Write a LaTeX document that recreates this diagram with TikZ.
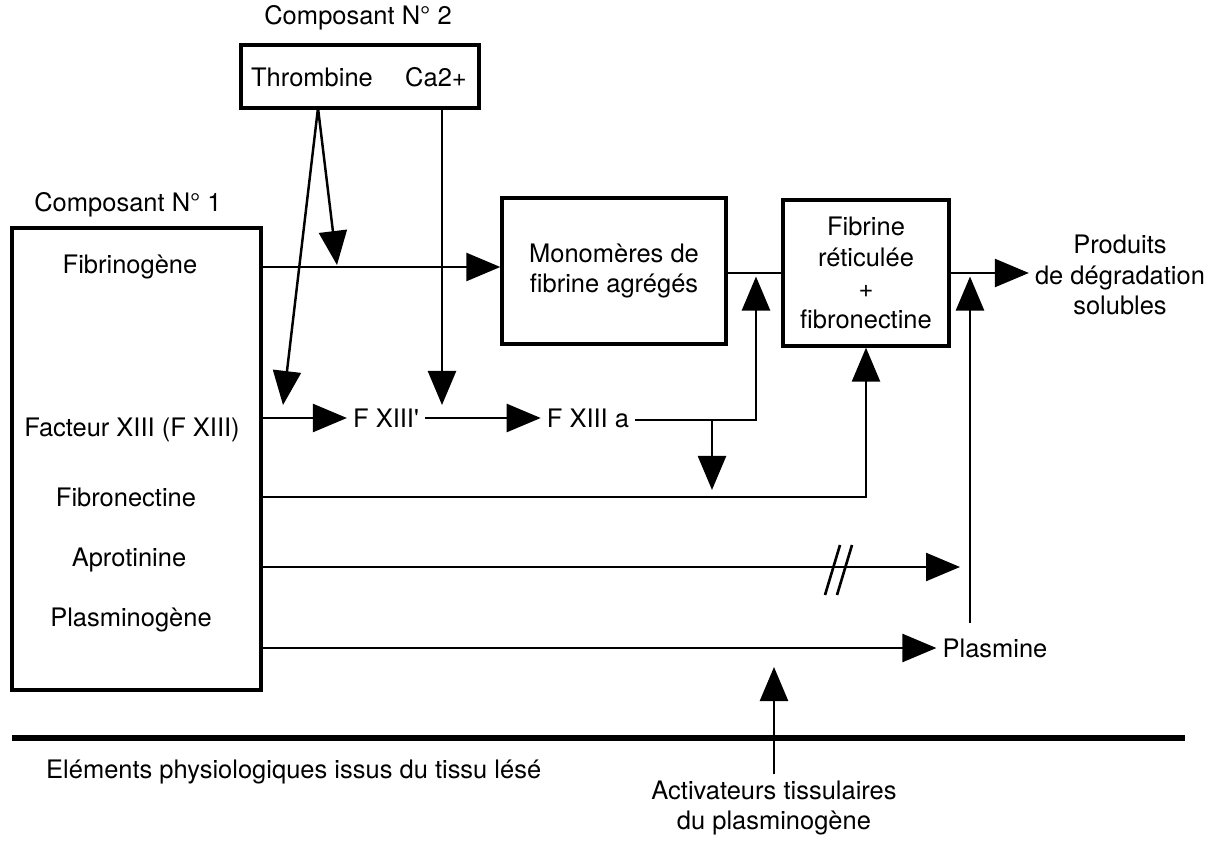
\documentclass[tikz,border=0pt]{standalone}
\usepackage{fontspec}
\setmainfont{TeX Gyre Heros}
\usetikzlibrary{arrows.meta}

\tikzset{
  box/.style={draw=black,line width=1.9pt,rectangle,inner sep=0pt},
  flow/.style={line width=1.4pt,-{Triangle[length=0.68cm,width=0.56cm]}},
  link/.style={line width=1.4pt},
  cut/.style={line width=1.5pt},
}

\begin{document}
\begin{tikzpicture}[font=\fontsize{14.5}{17.5}\selectfont]
  \useasboundingbox (0,0) rectangle (24.44,17.02);

  % Composant 2
  \node (c2title) at (7.16,16.66) {Composant N° 2};
  \node[box,minimum width=4.76cm,minimum height=1.26cm] (comp2) at (7.2,15.49) {};
  \node (thromb) at (6.24,15.48) {Thrombine};
  \node (calc) at (8.72,15.48) {Ca2+};

  % Composant 1
  \node (c1title) at (2.56,12.92) {Composant N° 1};
  \node[box,minimum width=4.98cm,minimum height=9.24cm] (comp1) at (2.73,7.84) {};
  \node (fibrinogene) at (2.6,11.68) {Fibrinogène};
  \node (fxiii) at (2.64,8.42) {Facteur XIII (F XIII)};
  \node (fibronectine) at (2.52,7.08) {Fibronectine};
  \node (aprotinine) at (2.58,5.82) {Aprotinine};
  \node (plasminogene) at (2.62,4.62) {Plasminogène};

  % Central boxes
  \node[box,minimum width=4.48cm,minimum height=2.92cm,align=center] (mono) at (12.28,11.6) {Monomères de\\fibrine agrégés};
  \node[box,minimum width=3.32cm,minimum height=2.92cm,align=center] (fibrine) at (17.32,11.56) {Fibrine\\réticulée\\+\\fibronectine};

  % Intermediates and products
  \node (fxiiip) at (7.72,8.66) {F XIII\textquotesingle};
  \node (fxiiia) at (11.76,8.66) {F XIII a};
  \node (plasmine) at (19.9,4.06) {Plasmine};
  \node[align=center] (produits) at (22.4,11.52) {Produits\\de dégradation\\solubles};

  % Bottom part
  \draw[line width=3pt] (0.24,2.26) -- (23.7,2.26);
  \node[anchor=west] (elements) at (0.8,1.58) {Eléments physiologiques issus du tissu lésé};
  \node[align=center] (activ) at (15.48,0.86) {Activateurs tissulaires\\du plasminogène};

  % Junctions
  \coordinate (thrOut) at (6.36,14.86);
  \coordinate (thrTipA) at (6.74,11.72);
  \coordinate (thrTipB) at (5.66,8.92);
  \coordinate (caOut) at (8.84,14.86);
  \coordinate (caTip) at (8.84,8.92);
  \coordinate (jfxa) at (15.12,8.62);
  \coordinate (jdown) at (14.24,8.62);
  \coordinate (jprod) at (19.4,11.56);
  \coordinate (plasTop) at (19.4,4.56);
  \coordinate (aprotEnd) at (19.2,5.68);
  \coordinate (activTip) at (15.48,3.68);

  % Arrows
  \draw[flow] (thrOut) -- (thrTipA);
  \draw[flow] (thrOut) -- (thrTipB);
  \draw[flow] (caOut) -- (caTip);
  \draw[flow] (comp1.east |- fibrinogene) -- (mono.west |- fibrinogene);
  \draw[flow] (comp1.east |- fxiiip) -- (fxiiip.west);
  \draw[flow] (fxiiip.east) -- (fxiiia.west);
  \draw[flow,shorten >=2pt] (fxiiia.east |- jfxa) -- (jfxa) -- (jfxa |- fibrine.west);
  \draw[link] (mono.east |- fibrine.west) -- (fibrine.west);
  \draw[flow,shorten >=4pt] (jdown) -- (jdown |- fibronectine);
  \draw[flow] (comp1.east |- fibronectine) -- (fibrine.south |- fibronectine) -- (fibrine.south);
  \draw[flow] (fibrine.east) -- (fibrine.east -| produits.west);
  \draw[flow,shorten >=2pt] (plasTop) -- (jprod);
  \draw[flow] (comp1.east |- aprotEnd) -- (aprotEnd);
  \draw[flow] (comp1.east |- plasmine) -- (plasmine.west);
  \draw[flow] (activ.north) -- (activTip);

  % Break marks
  \draw[cut] (16.5,5.12) -- (16.8,6.12);
  \draw[cut] (16.74,5.12) -- (17.04,6.12);
\end{tikzpicture}
\end{document}
